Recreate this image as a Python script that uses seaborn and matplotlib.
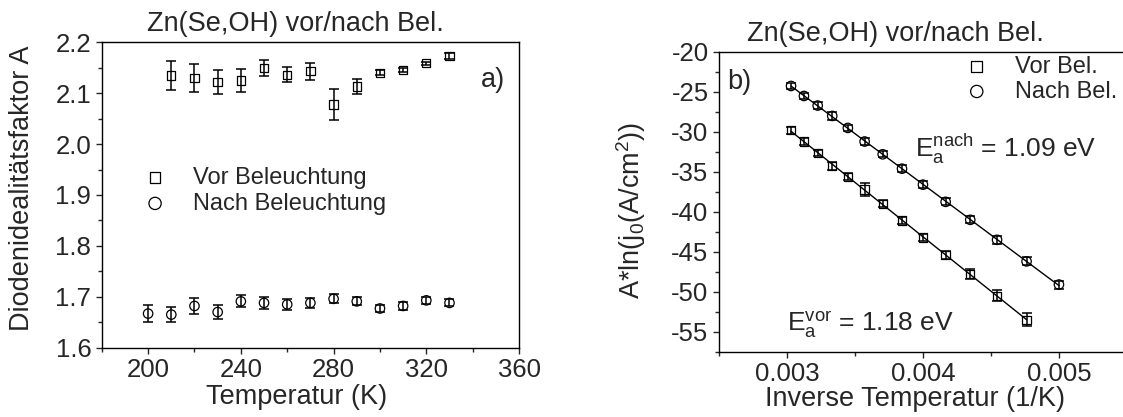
import numpy as np
import pandas as pd
import matplotlib
matplotlib.use("Agg")
import matplotlib.pyplot as plt
import seaborn as sns
from matplotlib.ticker import MultipleLocator, FormatStrFormatter

# --- panel a): ideality factor vs temperature ---
temp_vor = [210, 220, 230, 240, 250, 260, 270, 280, 290, 300, 310, 320, 330]
a_vor = [2.135, 2.130, 2.122, 2.125, 2.150, 2.136, 2.143, 2.078, 2.113, 2.140, 2.145, 2.159, 2.173]
a_vor_err = [0.029, 0.027, 0.024, 0.023, 0.016, 0.015, 0.017, 0.030, 0.015, 0.005, 0.004, 0.003, 0.005]

temp_nach = [200, 210, 220, 230, 240, 250, 260, 270, 280, 290, 300, 310, 320, 330]
a_nach = [1.667, 1.665, 1.682, 1.670, 1.691, 1.688, 1.685, 1.688, 1.696, 1.691, 1.677, 1.682, 1.693, 1.688]
a_nach_err = [0.017, 0.015, 0.015, 0.014, 0.012, 0.011, 0.011, 0.010, 0.009, 0.008, 0.007, 0.007, 0.007, 0.007]

# --- panel b): Arrhenius plot ---
inv_t_vor = [0.00303, 0.003125, 0.003226, 0.003333, 0.003448, 0.003571, 0.003704,
             0.003846, 0.004, 0.004167, 0.004348, 0.004545, 0.004762]
ln_vor = [-29.8, -31.2, -32.6, -34.25, -35.6, -37.2, -39.0, -41.1, -43.2, -45.4, -47.8, -50.5, -53.5]
ln_vor_err = [0.4, 0.4, 0.4, 0.5, 0.4, 0.8, 0.45, 0.45, 0.4, 0.5, 0.6, 0.7, 0.8]

inv_t_nach = [0.00303, 0.003125, 0.003226, 0.003333, 0.003448, 0.003571, 0.003704,
              0.003846, 0.004, 0.004167, 0.004348, 0.004545, 0.004762, 0.005]
ln_nach = [-24.25, -25.5, -26.7, -28.0, -29.5, -31.2, -32.8, -34.6, -36.6, -38.75, -41.0, -43.5, -46.2, -49.1]
ln_nach_err = [0.4, 0.4, 0.45, 0.45, 0.4, 0.45, 0.4, 0.45, 0.45, 0.45, 0.45, 0.5, 0.5, 0.5]

sns.set_style("ticks")
plt.rcParams["font.family"] = ["Liberation Sans", "DejaVu Sans"]
plt.rcParams["axes.unicode_minus"] = False
plt.rcParams["axes.linewidth"] = 1.0
plt.rcParams["xtick.direction"] = "out"
plt.rcParams["ytick.direction"] = "out"

FS = 19.5      # axis labels, titles
FT = 18.5      # tick labels
FL = 17        # legends
fig = plt.figure(figsize=(11.23, 4.17), dpi=100)
ax1 = fig.add_axes([0.0906, 0.1662, 0.3716, 0.7324])
ax2 = fig.add_axes([0.6402, 0.1566, 0.3633, 0.7187])

err_kw = dict(fmt="none", ecolor="black", elinewidth=1.1, capsize=3.5, capthick=1.1, zorder=2)
sq_kw = dict(marker="s", s=36, facecolors="none", edgecolor="black", linewidth=0.9, zorder=3)
ci_kw = dict(marker="o", s=46, facecolors="none", edgecolor="black", linewidth=0.9, zorder=3)
leg_kw = dict(loc="upper left", frameon=False, fontsize=FL, handlelength=1.0, handletextpad=1.1,
              borderpad=0, borderaxespad=0, markerscale=1.3)

# panel a
ax1.errorbar(temp_vor, a_vor, yerr=a_vor_err, **err_kw)
ax1.errorbar(temp_nach, a_nach, yerr=a_nach_err, **err_kw)
sns.scatterplot(x=temp_vor, y=a_vor, ax=ax1, label="Vor Beleuchtung", **sq_kw)
sns.scatterplot(x=temp_nach, y=a_nach, ax=ax1, label="Nach Beleuchtung", **ci_kw)

ax1.set_xlim(180, 360)
ax1.set_ylim(1.6, 2.2)
ax1.xaxis.set_major_locator(MultipleLocator(40))
ax1.xaxis.set_minor_locator(MultipleLocator(20))
ax1.yaxis.set_major_locator(MultipleLocator(0.1))
ax1.yaxis.set_minor_locator(MultipleLocator(0.05))
ax1.yaxis.set_major_formatter(FormatStrFormatter("%.1f"))
ax1.set_xlabel("Temperatur (K)", fontsize=FS)
ax1.set_ylabel("Diodenidealitätsfaktor A", fontsize=FS)
ax1.xaxis.set_label_coords(0.468, -0.118)
ax1.yaxis.set_label_coords(-0.16, 0.523)
ax1.text(0.909, 0.877, "a)", transform=ax1.transAxes, fontsize=FS, va="center", ha="left")
ax1.legend(bbox_to_anchor=(0.0995, 0.593), labelspacing=0.17, **leg_kw)

# panel b
ax2.errorbar(inv_t_vor, ln_vor, yerr=ln_vor_err, **err_kw)
ax2.errorbar(inv_t_nach, ln_nach, yerr=ln_nach_err, **err_kw)
sns.regplot(x=inv_t_vor, y=ln_vor, ax=ax2, scatter=False, ci=None, truncate=True,
            line_kws=dict(color="black", linewidth=1.0, zorder=1))
sns.regplot(x=inv_t_nach, y=ln_nach, ax=ax2, scatter=False, ci=None, truncate=True,
            line_kws=dict(color="black", linewidth=1.0, zorder=1))
sns.scatterplot(x=inv_t_vor, y=ln_vor, ax=ax2, label="Vor Bel.", **sq_kw)
sns.scatterplot(x=inv_t_nach, y=ln_nach, ax=ax2, label="Nach Bel.", **ci_kw)

ax2.set_xlim(0.0025, 0.0055)
ax2.set_ylim(-57.5, -20)
ax2.xaxis.set_major_locator(MultipleLocator(0.001))
ax2.xaxis.set_minor_locator(MultipleLocator(0.0005))
ax2.xaxis.set_major_formatter(FormatStrFormatter("%.3f"))
ax2.yaxis.set_major_locator(MultipleLocator(5))
ax2.yaxis.set_minor_locator(MultipleLocator(2.5))
ax2.set_xlabel("Inverse Temperatur (1/K)", fontsize=FS)
ax2.set_ylabel(r"A*ln(j$_\mathregular{0}$(A/cm$^\mathregular{2}$))", fontsize=FS)
ax2.xaxis.set_label_coords(0.48, -0.116)
ax2.yaxis.set_label_coords(-0.175, 0.473)
ax2.text(0.02, 0.90, "b)", transform=ax2.transAxes, fontsize=FS, va="center", ha="left")
ax2.text(0.48, 0.65, r"$\mathregular{E_a^{nach}}$ = 1.09 eV", transform=ax2.transAxes,
         fontsize=19, va="baseline", ha="left")
ax2.text(0.167, 0.067, r"$\mathregular{E_a^{vor}}$ = 1.18 eV", transform=ax2.transAxes,
         fontsize=19, va="baseline", ha="left")
ax2.legend(bbox_to_anchor=(0.603, 0.988), labelspacing=0.13, **leg_kw)

for ax in (ax1, ax2):
    ax.tick_params(which="major", length=4.5, width=1.0, labelsize=FT, pad=3)
    ax.tick_params(which="minor", length=3, width=1.0)
    for sp in ax.spines.values():
        sp.set_visible(True)
        sp.set_color("black")

fig.text(295 / 1123, 1 - 31 / 417, "Zn(Se,OH) vor/nach Bel.", fontsize=FS, ha="center", va="baseline")
fig.text(895 / 1123, 1 - 41 / 417, "Zn(Se,OH) vor/nach Bel.", fontsize=FS, ha="center", va="baseline")

fig.savefig("out.png", dpi=100)
